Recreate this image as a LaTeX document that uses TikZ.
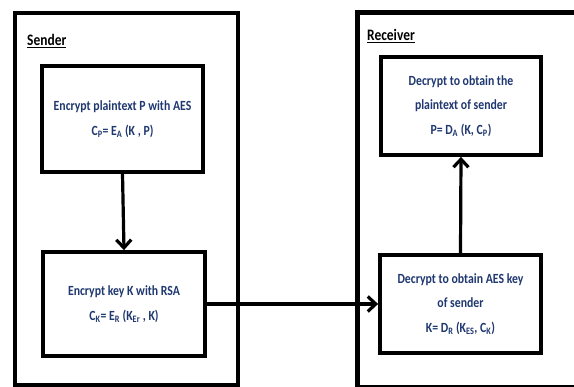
\documentclass[tikz,border=0pt]{standalone}
\usepackage{fontspec}
\setmainfont{Carlito}
\newfontfamily\boxfont[FakeStretch=0.84]{Carlito}
\usetikzlibrary{arrows.meta}
\definecolor{txtblue}{HTML}{1F3870}
\tikzset{
  outerbox/.style={draw=black, line width=4.8pt, fill=none},
  stepbox/.style={draw=black, line width=3.8pt, fill=white, align=center,
    text=txtblue, font=\boxfont\bfseries\fontsize{14}{24.5}\selectfont, inner sep=0pt},
  flow/.style={line width=3.2pt, -{Straight Barb[length=8pt,width=15pt,line width=3.2pt]}},
  title/.style={font=\boxfont\bfseries\fontsize{16}{18}\selectfont, anchor=west, inner sep=0pt}
}
\begin{document}
\begin{tikzpicture}[x=1pt,y=-1pt]
\useasboundingbox (0,0) rectangle (574,387);
\clip (0,0) rectangle (574,387);
% outer boxes
\node[outerbox, minimum width=223pt, minimum height=372pt] (sender) at (126.5,199) {};
\node[outerbox, minimum width=240pt, minimum height=375pt, anchor=north west] (receiver) at (355,10) {};
\node[title] (slabel) at (27,41) {\underline{Sender}};
\node[title] (rlabel) at (367,36) {\underline{Receiver}};
% step boxes
\node[stepbox, minimum width=161pt, minimum height=106pt] (encp) at (122.5,119)
  {Encrypt plaintext P with AES\\C\textsubscript{P}= E\textsubscript{A} (K , P)};
\node[stepbox, minimum width=162pt, minimum height=104pt] (enck) at (124,304)
  {Encrypt key K with RSA\\C\textsubscript{K}= E\textsubscript{R} (K\textsubscript{Er} , K)};
\node[stepbox, minimum width=160pt, minimum height=98pt] (decp) at (461,106)
  {Decrypt to obtain the\\plaintext of sender\\P= D\textsubscript{A} (K, C\textsubscript{P})};
\node[stepbox, minimum width=161pt, minimum height=98pt] (deck) at (460.5,304)
  {Decrypt to obtain AES key\\of sender\\K= D\textsubscript{R} (K\textsubscript{ES}, C\textsubscript{K})};
% connectors
\draw[flow] (encp.south) -- (enck.north);
\draw[flow] (enck.east) -- (enck.east -| deck.west);
\draw[flow] (deck.north) -- (decp.south);
\end{tikzpicture}
\end{document}
